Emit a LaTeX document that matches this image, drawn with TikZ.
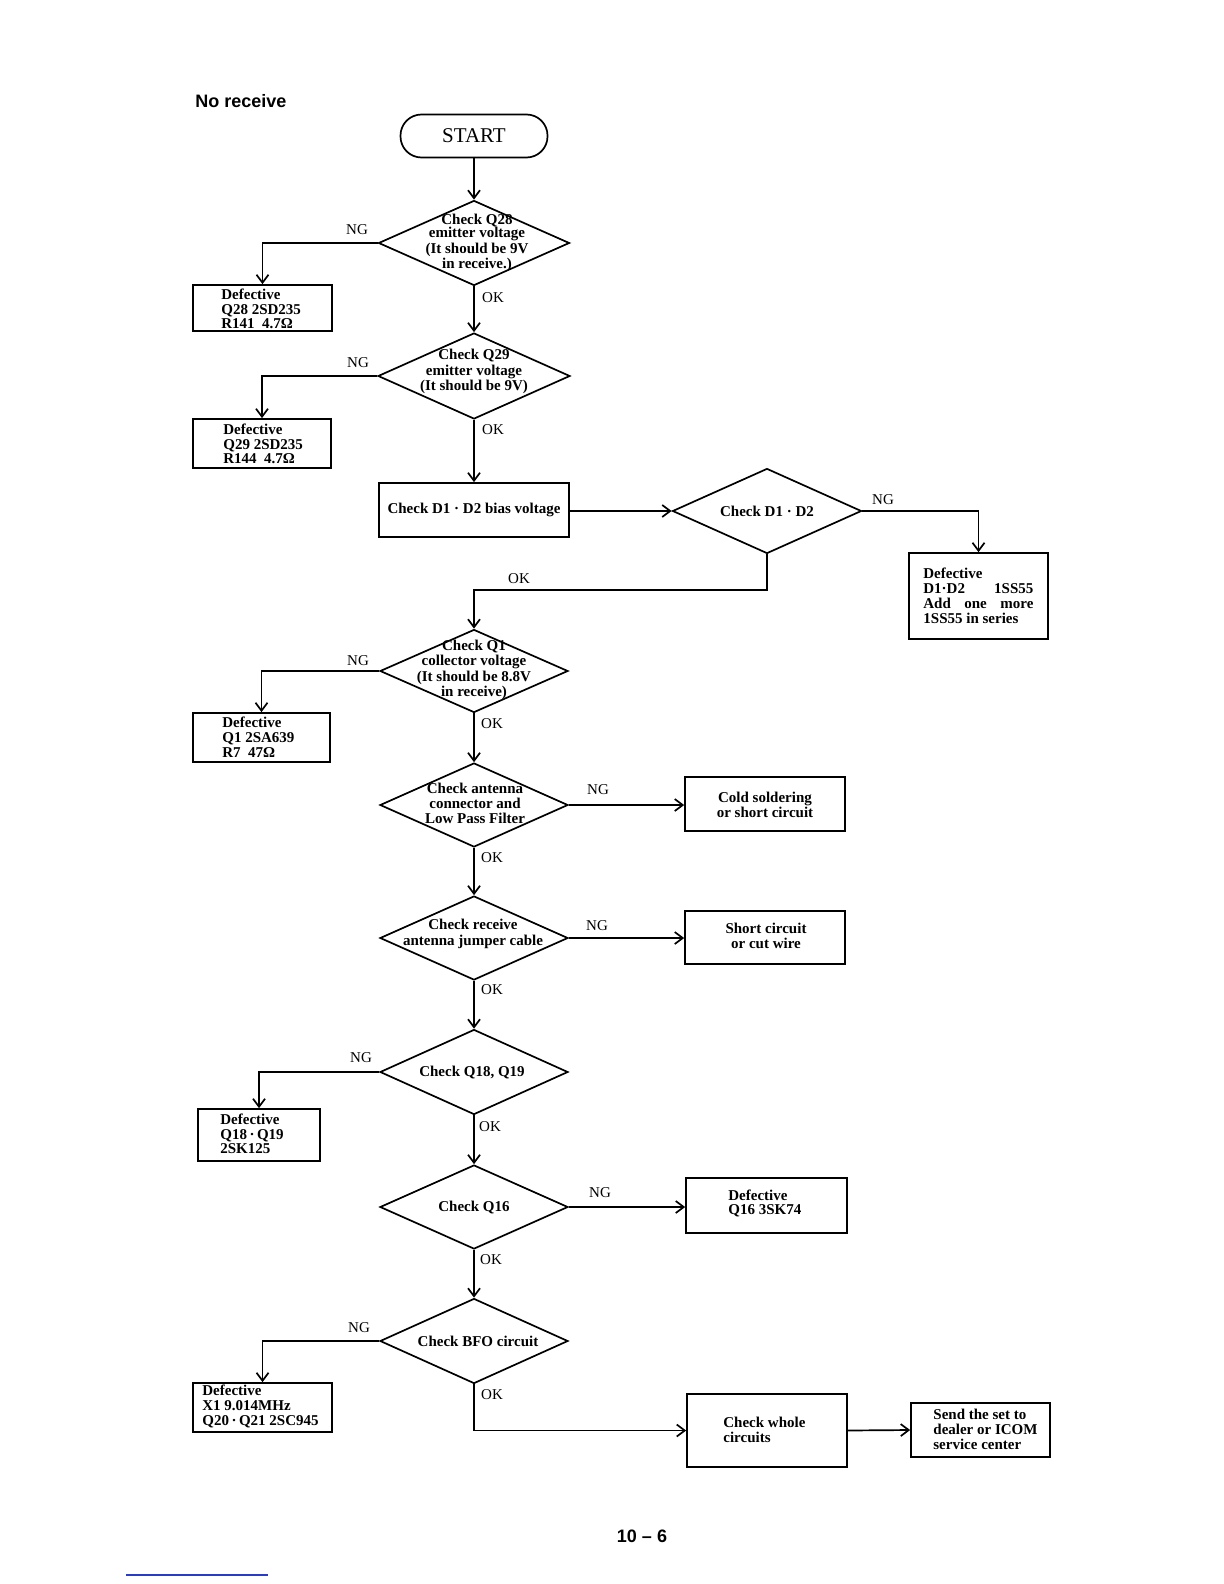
\documentclass[tikz,border=0pt]{standalone}
\usepackage{fontspec}
\setmainfont{Liberation Serif}
\newfontfamily\hfont{Liberation Sans}
\usetikzlibrary{shapes.geometric,arrows.meta,calc}
\definecolor{footblue}{RGB}{40,60,200}
\begin{document}
\begin{tikzpicture}[x=0.5pt,y=-0.5pt,
  ln/.style={line width=0.85pt},
  arr/.style={ln,-{Straight Barb[length=4pt,width=6pt]}},
  bx/.style={draw,ln,rectangle,inner sep=0},
  dia/.style={draw,ln,diamond,inner sep=0},
  tx/.style={font=\bfseries\fontsize{7.5}{7.25}\selectfont,inner sep=0,align=left,anchor=west},
  ctx/.style={font=\bfseries\fontsize{7.5}{7.5}\selectfont,inner sep=0,align=center},
  lab/.style={font=\fontsize{7.5}{9}\selectfont,inner sep=0}]
\fill[white] (0,0) rectangle (1224,1584);
\useasboundingbox (0,0) rectangle (1224,1584);

% title and page number
\node[font=\hfont\bfseries\fontsize{9}{11}\selectfont,anchor=base west,inner sep=0] (title) at (195,108) {No receive};
\node[font=\hfont\bfseries\fontsize{9}{11}\selectfont,inner sep=0] (page) at (642,1536) {10 – 6};
\coordinate (fl1) at (126,1575);
\coordinate (fl2) at (268,1575);
\draw[line width=0.6pt,footblue] (fl1) -- (fl2);

% start
\node[draw,ln,rectangle,rounded corners=10.5pt,minimum width=73.5pt,minimum height=21.5pt,inner sep=0,
      font=\fontsize{10.5}{12}\selectfont] (start) at (474,136) {START};

% diamonds
\node[dia,minimum width=95.5pt,minimum height=42.5pt] (d1) at (474,243) {};
\node[dia,minimum width=96pt,minimum height=43pt] (d2) at (474,376) {};
\node[dia,minimum width=94.5pt,minimum height=42.5pt] (d3) at (767,511) {};
\node[dia,minimum width=94pt,minimum height=41.5pt] (d4) at (474,671) {};
\node[dia,minimum width=94pt,minimum height=42pt] (d5) at (474,805) {};
\node[dia,minimum width=94pt,minimum height=42pt] (d6) at (474,938) {};
\node[dia,minimum width=94pt,minimum height=42.5pt] (d7) at (474,1072) {};
\node[dia,minimum width=94pt,minimum height=42pt] (d8) at (474,1207) {};
\node[dia,minimum width=94pt,minimum height=42.5pt] (d9) at (474,1341) {};

\node[ctx,font=\bfseries\fontsize{7.5}{6.65}\selectfont] (t1) at (477,243) {Check Q28\\emitter voltage\\(It should be 9V\\in receive.)};
\node[ctx,font=\bfseries\fontsize{7.5}{7.75}\selectfont] (t2) at (474,371.5) {Check Q29\\emitter voltage\\(It should be 9V)};
\node[ctx] (t3) at (767,511) {Check D1 · D2};
\node[ctx,font=\bfseries\fontsize{7.5}{6.35}\selectfont] (t4) at (474,670) {Check Q1\\collector voltage\\(It should be 8.8V\\in receive)};
\node[ctx,font=\bfseries\fontsize{7.5}{7.5}\selectfont] (t5) at (475,803) {Check antenna\\connector and\\Low Pass Filter};
\node[ctx,font=\bfseries\fontsize{7.5}{8}\selectfont] (t6) at (473,934) {Check receive\\antenna jumper cable};
\node[ctx] (t7) at (472,1072) {Check Q18, Q19};
\node[ctx] (t8) at (474,1207) {Check Q16};
\node[ctx] (t9) at (478,1341) {Check BFO circuit};

% boxes
\node[bx,minimum width=69.5pt,minimum height=23pt] (b1) at (262.5,308) {};
\node[tx] (bt1) at (221,309) {Defective\\Q28 2SD235\\R141\ \ 4.7Ω};
\node[bx,minimum width=69pt,minimum height=24.5pt] (b2) at (262,443.5) {};
\node[tx] (bt2) at (223,444) {Defective\\Q29 2SD235\\R144\ \ 4.7Ω};
\node[bx,minimum width=95pt,minimum height=27pt] (bias) at (474,510) {};
\node[ctx] (biast) at (474,510) {Check D1 · D2 bias voltage};
\node[bx,minimum width=69.5pt,minimum height=43pt] (bD) at (978.5,596) {};
\node[tx,font=\bfseries\fontsize{7.5}{7.5}\selectfont] (bDt) at (923,596) {Defective\\\hbox to 55pt{D1·D2\hfill 1SS55}\\\hbox to 55pt{Add\hfill one\hfill more}\\1SS55 in series};
\node[bx,minimum width=68.5pt,minimum height=24.5pt] (b4) at (261.5,737.5) {};
\node[tx,font=\bfseries\fontsize{7.5}{7.5}\selectfont] (bt4) at (222,737) {Defective\\Q1 2SA639\\R7\ \ 47Ω};
\node[bx,minimum width=80pt,minimum height=27pt] (cold) at (765,804) {};
\node[ctx] (coldt) at (765,804.5) {Cold soldering\\or short circuit};
\node[bx,minimum width=80pt,minimum height=26.5pt] (short) at (765,937.5) {};
\node[ctx] (shortt) at (766,935.5) {Short circuit\\or cut wire};
\node[bx,minimum width=61pt,minimum height=26pt] (b7) at (259,1135) {};
\node[tx] (bt7) at (220,1134) {Defective\\Q18\,·\,Q19\\2SK125};
\node[bx,minimum width=80.5pt,minimum height=27.5pt] (q16) at (766.5,1205.5) {};
\node[tx,font=\bfseries\fontsize{7.5}{6.6}\selectfont] (q16t) at (728,1203.5) {Defective\\Q16 3SK74};
\node[bx,minimum width=69.5pt,minimum height=24.5pt] (b9) at (262.5,1407.5) {};
\node[tx,font=\bfseries\fontsize{7.5}{7.5}\selectfont] (bt9) at (202,1406) {Defective\\X1 9.014MHz\\Q20\,·\,Q21 2SC945};
\node[bx,minimum width=80pt,minimum height=36.5pt] (whole) at (767,1430.5) {};
\node[tx,font=\bfseries\fontsize{7.5}{7.5}\selectfont] (wholet) at (723,1429.5) {Check whole\\circuits};
\node[bx,minimum width=69.5pt,minimum height=27pt] (send) at (980.5,1430) {};
\node[tx,font=\bfseries\fontsize{7.5}{7.5}\selectfont] (sendt) at (933,1429) {Send the set to\\dealer or ICOM\\service center};

% connectors
\coordinate (j3) at (474,590);
\draw[arr] (start.south) -- (d1.north);
\draw[arr] (d1.west) -| (b1.north);
\draw[arr] (d1.south) -- (d2.north);
\draw[arr] (d2.west) -| (b2.north);
\draw[arr] (d2.south) -- (bias.north);
\draw[arr] (bias.east |- d3.west) -- (d3.west);
\draw[arr] (d3.east) -| (bD.north);
\draw[arr] (d3.south) |- (j3) -- (d4.north);
\draw[arr] (d4.west) -| (b4.north);
\draw[arr] (d4.south) -- (d5.north);
\draw[arr] (d5.east) -- (d5.east -| cold.west);
\draw[arr] (d5.south) -- (d6.north);
\draw[arr] (d6.east) -- (d6.east -| short.west);
\draw[arr] (d6.south) -- (d7.north);
\draw[arr] (d7.west) -| (b7.north);
\draw[arr] (d7.south) -- (d8.north);
\draw[arr] (d8.east) -- (d8.east -| q16.west);
\draw[arr] (d8.south) -- (d9.north);
\draw[arr] (d9.west) -| (b9.north);
\draw[arr] (d9.south) |- (whole.west);
\draw[arr] (whole.east) -- (send.west);

% labels
\node[lab] (ng1) at (357,230) {NG};
\node[lab] (ok1) at (493,298) {OK};
\node[lab] (ng2) at (358,363) {NG};
\node[lab] (ok2) at (493,430) {OK};
\node[lab] (ng3) at (883,500) {NG};
\node[lab] (ok3) at (519,579) {OK};
\node[lab] (ng4) at (358,661) {NG};
\node[lab] (ok4) at (492,724) {OK};
\node[lab] (ng5) at (598,790) {NG};
\node[lab] (ok5) at (492,858) {OK};
\node[lab] (ng6) at (597,926) {NG};
\node[lab] (ok6) at (492,990) {OK};
\node[lab] (ng7) at (361,1058) {NG};
\node[lab] (ok7) at (490,1127) {OK};
\node[lab] (ng8) at (600,1193) {NG};
\node[lab] (ok8) at (491,1260) {OK};
\node[lab] (ng9) at (359,1328) {NG};
\node[lab] (ok9) at (492,1395) {OK};
\end{tikzpicture}
\end{document}
